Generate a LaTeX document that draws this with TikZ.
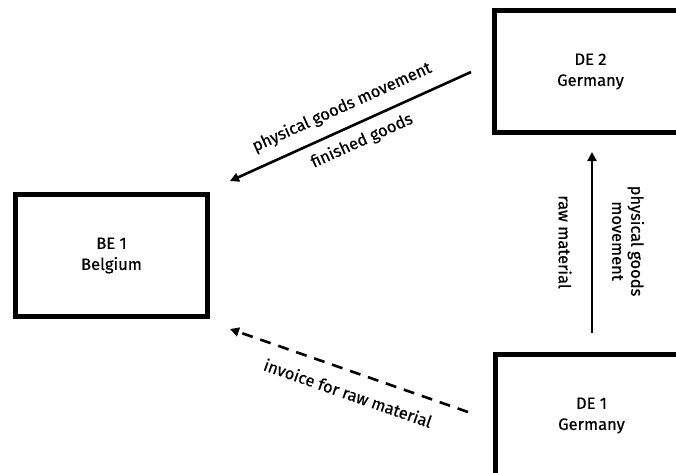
\documentclass[tikz,border=0pt]{standalone}
\usepackage{fontspec}
\setmainfont{Fira Sans}[UprightFeatures={FakeBold=0.6}]
\usetikzlibrary{arrows.meta}
\begin{document}
\begin{tikzpicture}[x=1pt,y=-1pt,
  entity/.style={draw=black,line width=5pt,minimum width=192pt,minimum height=122pt,
    inner sep=0pt,align=center,font=\fontsize{16.5}{21}\selectfont},
  flow/.style={line width=2.6pt,-{Triangle[length=9pt,width=9pt]}},
  lbl/.style={font=\fontsize{16.5}{19}\selectfont,inner sep=0pt,align=center}]
  \useasboundingbox (0,0) rectangle (676,472);
  \clip (0,0) rectangle (676,472);

  % company boxes
  \node[entity] (be1) at (111.5,255.5) {BE 1\\Belgium};
  \node[entity] (de2) at (590.5,71.5) {DE 2\\Germany};
  \node[entity] (de1) at (591.5,415.5) {DE 1\\Germany};

  % arrow end points
  \coordinate (fgS) at (471,72);
  \coordinate (fgE) at (230,181);
  \coordinate (invS) at (468,412);
  \coordinate (invE) at (230,329);
  \coordinate (rmS) at (592,333);
  \coordinate (rmE) at (592,152);

  % finished goods from DE 2 to BE 1
  \draw[flow] (fgS) -- (fgE);
  \node[lbl,rotate=24.3] (fgT) at (342,107.5) {physical goods movement};
  \node[lbl,rotate=24.3] (fgB) at (362,141) {finished goods};

  % invoice from DE 1 to BE 1
  \draw[flow,dash pattern=on 11pt off 8pt] (invS) -- (invE);
  \node[lbl,rotate=-19.2] (invT) at (348,393) {invoice for raw material};

  % raw material from DE 1 to DE 2
  \draw[flow] (rmS) -- (rmE);
  \node[lbl,rotate=-90] (rmL) at (565,242) {raw material};
  \node[lbl,rotate=-90] (rmR) at (628,241) {physical goods\\movement};
\end{tikzpicture}
\end{document}
